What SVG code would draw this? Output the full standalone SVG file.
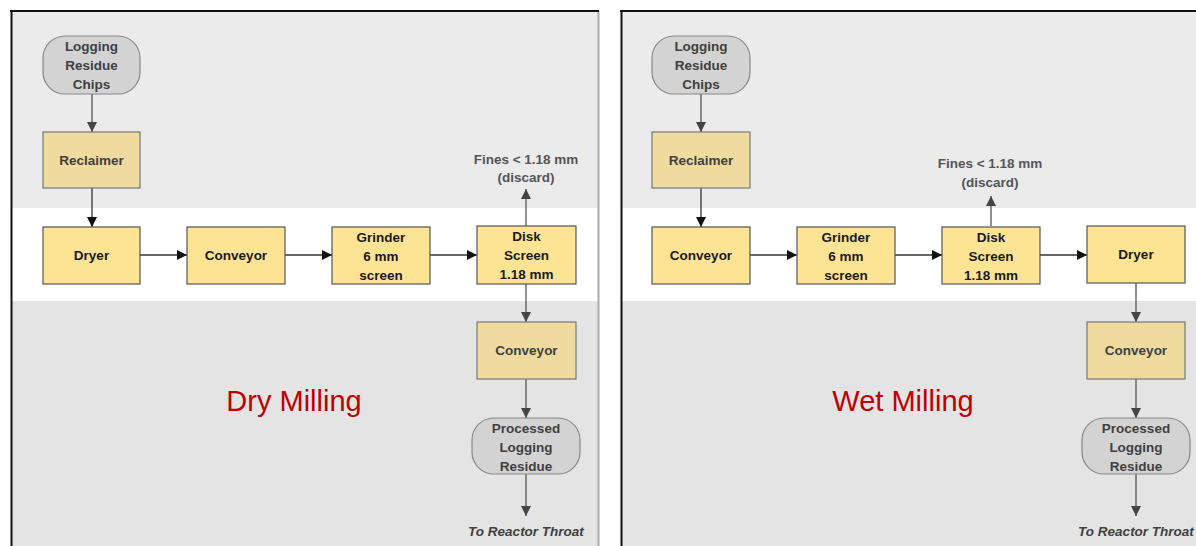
<svg xmlns="http://www.w3.org/2000/svg" width="1196" height="546" viewBox="0 0 1196 546">
<style>
.t{font-family:"Liberation Sans",Arial,sans-serif;font-weight:bold;font-size:13.5px;text-anchor:middle}
.dk{fill:#1a1a1a}
.gr{fill:#404040}
.lbl{fill:#555}
.y{fill:#fde494;stroke:#555;stroke-width:1.2}
.tan{fill:#efdba0;stroke:#777;stroke-width:1.2}
.pill{fill:#d3d3d3;stroke:#888;stroke-width:1.2}
.c{stroke:#555;stroke-width:1.3;fill:none}
.cm{stroke:#333;stroke-width:1.3;fill:none}
.big{font-family:"Liberation Sans",Arial,sans-serif;font-size:29px;fill:#c00000;text-anchor:middle}
.it{font-style:italic}
</style>
<defs>
<marker id="ag" viewBox="0 0 10 10" refX="10" refY="5" markerWidth="10" markerHeight="10" markerUnits="userSpaceOnUse" orient="auto"><path d="M0,0 L10,5 L0,10 z" fill="#444"/></marker>
<marker id="ab" viewBox="0 0 10 10" refX="10" refY="5" markerWidth="10" markerHeight="10" markerUnits="userSpaceOnUse" orient="auto"><path d="M0,0 L10,5 L0,10 z" fill="#111"/></marker>
</defs>
<rect x="0" y="0" width="1196" height="546" fill="#fff"/>
<g id="panel-left">
<rect x="12" y="12" width="587" height="196" fill="#ebebeb"/>
<rect x="12" y="208" width="587" height="93" fill="#fff"/>
<rect x="12" y="301" width="587" height="245" fill="#e4e4e4"/>
<line x1="598.5" y1="11" x2="598.5" y2="546" stroke="#aaa" stroke-width="2"/>
<line x1="11.5" y1="10" x2="11.5" y2="546" stroke="#111" stroke-width="2"/>
<line x1="10" y1="11" x2="599" y2="11" stroke="#111" stroke-width="2"/>
</g>
<g id="panel-right">
<rect x="622" y="12" width="574" height="196" fill="#ebebeb"/>
<rect x="622" y="208" width="574" height="93" fill="#fff"/>
<rect x="622" y="301" width="574" height="245" fill="#e4e4e4"/>
<line x1="621.5" y1="10" x2="621.5" y2="546" stroke="#111" stroke-width="2"/>
<line x1="620" y1="11" x2="1196" y2="11" stroke="#111" stroke-width="2"/>
</g>
<g id="connectors">
<line class="c" x1="92" y1="94" x2="92" y2="132" marker-end="url(#ag)"/>
<line class="cm" x1="92" y1="188" x2="92" y2="227" marker-end="url(#ab)"/>
<line class="cm" x1="140" y1="255" x2="187" y2="255" marker-end="url(#ab)"/>
<line class="cm" x1="285" y1="255" x2="332" y2="255" marker-end="url(#ab)"/>
<line class="cm" x1="430" y1="255" x2="477" y2="255" marker-end="url(#ab)"/>
<line class="c" x1="526" y1="226" x2="526" y2="189" marker-end="url(#ag)"/>
<line class="c" x1="526" y1="284" x2="526" y2="322" marker-end="url(#ag)"/>
<line class="c" x1="526" y1="379" x2="526" y2="418" marker-end="url(#ag)"/>
<line class="c" x1="526" y1="474" x2="526" y2="516" marker-end="url(#ag)"/>
<line class="c" x1="701" y1="94" x2="701" y2="132" marker-end="url(#ag)"/>
<line class="cm" x1="701" y1="188" x2="701" y2="227" marker-end="url(#ab)"/>
<line class="cm" x1="750" y1="255" x2="797" y2="255" marker-end="url(#ab)"/>
<line class="cm" x1="895" y1="255" x2="942" y2="255" marker-end="url(#ab)"/>
<line class="cm" x1="1040" y1="255" x2="1087" y2="255" marker-end="url(#ab)"/>
<line class="c" x1="991" y1="226" x2="991" y2="196" marker-end="url(#ag)"/>
<line class="c" x1="1136" y1="283" x2="1136" y2="322" marker-end="url(#ag)"/>
<line class="c" x1="1136" y1="379" x2="1136" y2="418" marker-end="url(#ag)"/>
<line class="c" x1="1136" y1="474" x2="1136" y2="516" marker-end="url(#ag)"/>
</g>
<g id="l-chips"><rect class="pill" x="43" y="36" width="97" height="58" rx="22"/><text class="t gr"><tspan x="91.5" y="51">Logging</tspan><tspan x="91.5" y="70">Residue</tspan><tspan x="91.5" y="89">Chips</tspan></text></g>
<g id="l-reclaimer"><rect class="tan" x="43" y="132" width="97" height="56"/><text class="t gr" x="91.5" y="165">Reclaimer</text></g>
<g id="l-dryer"><rect class="y" x="43" y="227" width="97" height="57"/><text class="t dk" x="91.5" y="260">Dryer</text></g>
<g id="l-conveyor"><rect class="y" x="187" y="227" width="98" height="57"/><text class="t dk" x="236" y="260">Conveyor</text></g>
<g id="l-grinder"><rect class="y" x="332" y="227" width="98" height="57"/><text class="t dk"><tspan x="381" y="242">Grinder</tspan><tspan x="381" y="261">6 mm</tspan><tspan x="381" y="280">screen</tspan></text></g>
<g id="l-disk"><rect class="y" x="477" y="226" width="99" height="58"/><text class="t dk"><tspan x="526.5" y="241">Disk</tspan><tspan x="526.5" y="260">Screen</tspan><tspan x="526.5" y="279">1.18 mm</tspan></text></g>
<g id="l-fines"><text class="t lbl"><tspan x="526" y="164">Fines &lt; 1.18 mm</tspan><tspan x="526" y="182">(discard)</tspan></text></g>
<g id="l-conveyor2"><rect class="tan" x="477" y="322" width="99" height="57"/><text class="t gr" x="526.5" y="355">Conveyor</text></g>
<g id="l-processed"><rect class="pill" x="472" y="418" width="108" height="56" rx="22"/><text class="t gr"><tspan x="526" y="433">Processed</tspan><tspan x="526" y="452">Logging</tspan><tspan x="526" y="471">Residue</tspan></text></g>
<g id="l-reactor"><text class="t gr it" x="526" y="536">To Reactor Throat</text></g>
<g id="l-title"><text class="big" x="294" y="411">Dry Milling</text></g>
<g id="r-chips"><rect class="pill" x="652" y="36" width="98" height="58" rx="22"/><text class="t gr"><tspan x="701" y="51">Logging</tspan><tspan x="701" y="70">Residue</tspan><tspan x="701" y="89">Chips</tspan></text></g>
<g id="r-reclaimer"><rect class="tan" x="652" y="132" width="98" height="56"/><text class="t gr" x="701" y="165">Reclaimer</text></g>
<g id="r-conveyor"><rect class="y" x="652" y="227" width="98" height="57"/><text class="t dk" x="701" y="260">Conveyor</text></g>
<g id="r-grinder"><rect class="y" x="797" y="227" width="98" height="57"/><text class="t dk"><tspan x="846" y="242">Grinder</tspan><tspan x="846" y="261">6 mm</tspan><tspan x="846" y="280">screen</tspan></text></g>
<g id="r-disk"><rect class="y" x="942" y="227" width="98" height="57"/><text class="t dk"><tspan x="991" y="242">Disk</tspan><tspan x="991" y="261">Screen</tspan><tspan x="991" y="280">1.18 mm</tspan></text></g>
<g id="r-fines"><text class="t lbl"><tspan x="990" y="168">Fines &lt; 1.18 mm</tspan><tspan x="990" y="187">(discard)</tspan></text></g>
<g id="r-dryer"><rect class="y" x="1087" y="226" width="98" height="57"/><text class="t dk" x="1136" y="259">Dryer</text></g>
<g id="r-conveyor2"><rect class="tan" x="1087" y="322" width="98" height="57"/><text class="t gr" x="1136" y="355">Conveyor</text></g>
<g id="r-processed"><rect class="pill" x="1082" y="418" width="108" height="56" rx="22"/><text class="t gr"><tspan x="1136" y="433">Processed</tspan><tspan x="1136" y="452">Logging</tspan><tspan x="1136" y="471">Residue</tspan></text></g>
<g id="r-reactor"><text class="t gr it" x="1136" y="536">To Reactor Throat</text></g>
<g id="r-title"><text class="big" x="903" y="411">Wet Milling</text></g>
</svg>
